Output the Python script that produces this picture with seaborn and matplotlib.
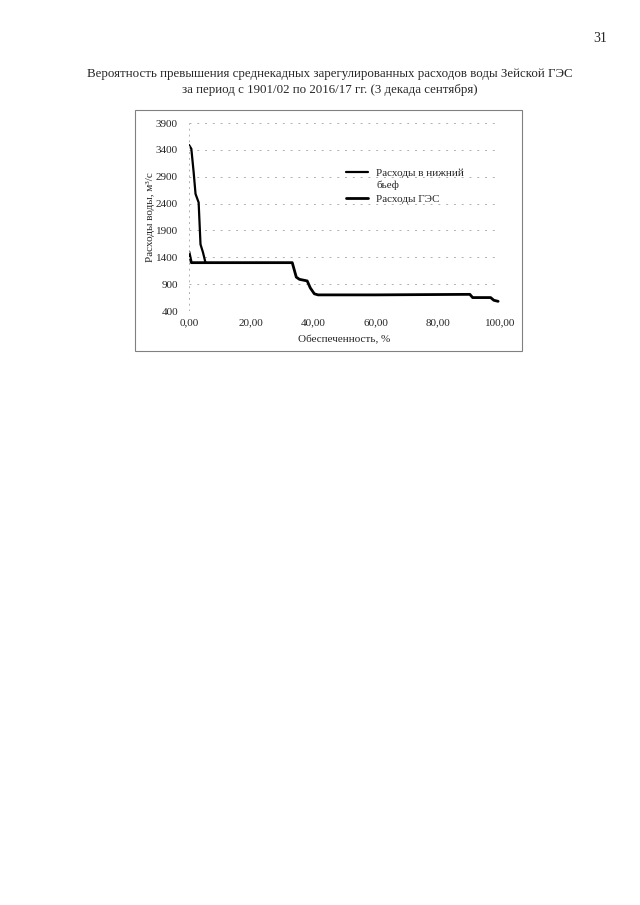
import matplotlib
matplotlib.use("Agg")
import matplotlib.pyplot as plt
import seaborn as sns
import pandas as pd
from matplotlib.patches import Rectangle
from matplotlib.ticker import FuncFormatter

# Data
x_tail = [0.0, 0.75, 1.5, 2.1, 3.1, 3.7, 4.5, 5.3]
q_tail = [3490, 3420, 2980, 2580, 2420, 1640, 1490, 1300]

x_hes = [0.0, 0.75, 5.3, 33.2, 34.5, 35.5, 38.0, 39.0, 40.3, 41.5, 60.0, 90.3, 91.2, 97.0, 98.0, 99.4]
q_hes = [1500, 1300, 1300, 1300, 1030, 990, 960, 830, 720, 700, 700, 710, 650, 650, 600, 580]

series_names = ["Расходы в нижний\nбьеф", "Расходы ГЭС"]
y_ticks = [400, 900, 1400, 1900, 2400, 2900, 3400, 3900]
x_ticks = [0, 20, 40, 60, 80, 100]

sns.set_theme(style="white")
plt.rcParams['font.family'] = ['Liberation Serif', 'DejaVu Serif']

fig = plt.figure(figsize=(6.4, 9.05), dpi=100)

# page text
fig.text(600 / 640, 1 - 39 / 905, "31", ha="center", va="center", fontsize=10)
fig.text(330 / 640, 1 - 74 / 905,
         "Вероятность превышения среднекадных зарегулированных расходов воды Зейской ГЭС",
         ha="center", va="center", fontsize=9.3)
fig.text(330 / 640, 1 - 90 / 905,
         "за период с 1901/02 по 2016/17 гг. (3 декада сентября)",
         ha="center", va="center", fontsize=9.3)

# chart border
fig.patches.append(Rectangle((135 / 640, 1 - 351 / 905), 387 / 640, 241 / 905,
                             transform=fig.transFigure, fill=False,
                             edgecolor="#808080", lw=0.8))

ax = fig.add_axes([189 / 640, 1 - 311 / 905, 311 / 640, 188 / 905])

df_tail = pd.DataFrame({"x": x_tail, "q": q_tail})
df_hes = pd.DataFrame({"x": x_hes, "q": q_hes})
sns.lineplot(data=df_tail, x="x", y="q", ax=ax, color="black", lw=1.6, label=series_names[0])
sns.lineplot(data=df_hes, x="x", y="q", ax=ax, color="black", lw=2.0, label=series_names[1])

ax.set_xlim(0, 100)
ax.set_ylim(400, 3900)
ax.set_xticks(x_ticks)
ax.set_yticks(y_ticks)
ax.xaxis.set_major_formatter(FuncFormatter(lambda v, p: f"{v:.2f}".replace(".", ",")))
ax.tick_params(labelsize=8, length=0)
ax.tick_params(axis="x", pad=5)
ax.tick_params(axis="y", pad=8)
ax.grid(axis="y", color="#b0b0b0", ls=(0, (2, 6)), lw=0.7)
ax.axvline(0, color="#b0b0b0", ls=(0, (2, 4)), lw=0.7)
for s in ax.spines.values():
    s.set_visible(False)

ax.set_xlabel("Обеспеченность, %", fontsize=8, labelpad=6)
ax.set_ylabel("Расходы воды, м³/с", fontsize=8, labelpad=0.5)

leg = ax.legend(loc="upper left", bbox_to_anchor=(0.487, 0.79), frameon=False,
                fontsize=8, handlelength=2.0, handletextpad=0.7,
                labelspacing=0.35, borderpad=0)
for t in leg.get_texts():
    t.set_linespacing(1.45)
# align the first handle with the first line of its wrapped label
h0 = leg.legend_handles[0]
yd = h0.get_ydata()
h0.set_ydata([v + 4.8 for v in yd])

fig.savefig("out.png", dpi=100)
